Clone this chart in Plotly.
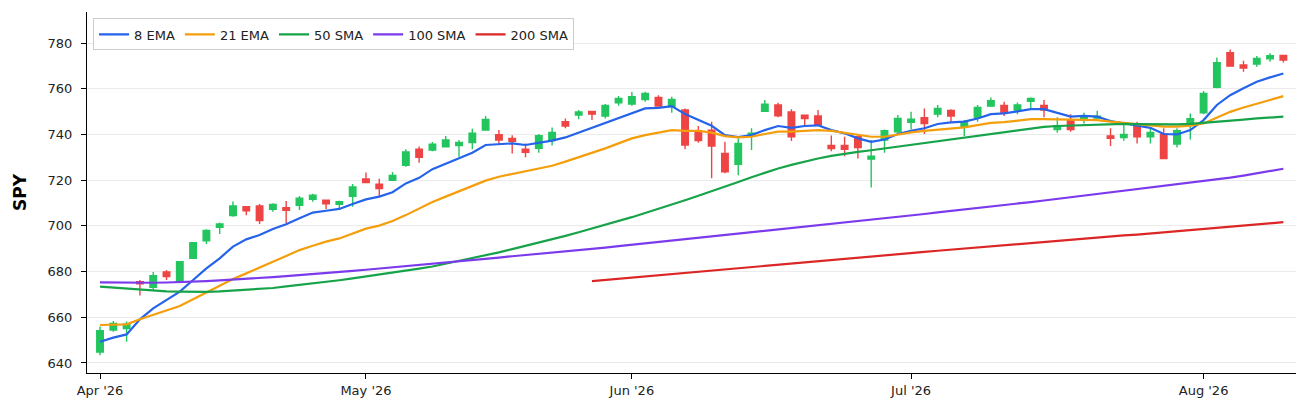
import pandas as pd
import plotly.graph_objects as go

ticker = 'SPY'

# trading days Apr 2 - Aug 11 2026 (NYSE holidays skipped)
holidays = ['2026-04-03', '2026-05-25', '2026-06-19', '2026-07-03']
dates = pd.bdate_range('2026-04-02', '2026-08-11', freq='C', holidays=holidays)

opens = [644.8, 654.4, 655.0, 675.6, 673.1, 679.8, 675.6, 685.8, 693.5, 699.4,
         704.5, 708.4, 708.7, 707.2, 707.9, 709.0, 711.6, 711.2, 709.4, 712.9,
         720.5, 718.2, 719.9, 726.5, 733.5, 733.2, 734.6, 735.2, 736.5, 741.9,
         739.9, 738.3, 733.6, 733.9, 737.3, 745.6, 748.5, 750.1, 748.1, 753.9,
         753.3, 755.3, 756.2, 752.1, 750.7, 741.6, 741.9, 731.7, 726.9, 739.3,
         750.1, 752.9, 749.8, 748.4, 748.1, 735.2, 735.2, 739.0, 729.2, 737.6,
         741.2, 745.3, 747.3, 748.9, 750.5, 743.1, 747.5, 752.4, 752.7, 750.7,
         754.5, 752.7, 742.2, 746.3, 746.3, 747.2, 739.4, 738.6, 743.7, 739.0,
         740.2, 735.8, 744.1, 749.5, 760.6, 775.8, 770.4, 770.8, 773.1, 774.6]
highs = [655.9, 658.4, 658.1, 676.3, 679.8, 680.7, 684.6, 692.9, 698.5, 701.5,
         710.7, 708.7, 709.6, 709.9, 710.9, 713.1, 714.1, 711.3, 711.0, 718.3,
         723.3, 720.6, 723.6, 733.5, 734.7, 736.7, 739.3, 737.6, 742.5, 748.1,
         741.9, 739.7, 736.1, 740.2, 743.1, 747.0, 750.7, 750.4, 753.3, 756.8,
         758.6, 758.7, 757.2, 756.5, 751.4, 743.7, 745.6, 736.8, 738.3, 742.7,
         755.1, 753.9, 751.0, 748.6, 750.7, 739.6, 739.0, 739.7, 737.6, 742.2,
         748.5, 749.9, 751.4, 752.9, 751.0, 746.3, 752.9, 756.2, 754.3, 754.0,
         756.2, 755.1, 747.5, 748.9, 749.5, 750.4, 742.7, 744.1, 745.6, 742.7,
         742.7, 742.7, 749.2, 759.0, 773.7, 777.2, 772.3, 774.3, 775.5, 774.9]
lows = [643.4, 653.6, 649.3, 669.5, 672.0, 676.3, 675.3, 685.5, 692.1, 696.4,
        704.0, 704.6, 700.8, 706.2, 701.1, 706.9, 710.6, 707.4, 707.4, 708.4,
        718.6, 713.1, 719.6, 725.9, 727.6, 732.6, 734.3, 730.3, 733.5, 741.6,
        735.8, 731.7, 730.0, 732.0, 735.2, 742.7, 746.7, 746.3, 747.0, 752.6,
        752.6, 754.3, 752.1, 749.5, 733.5, 736.4, 720.8, 723.0, 722.2, 733.2,
        749.9, 747.5, 737.1, 744.1, 743.7, 732.6, 730.5, 729.5, 716.8, 732.0,
        740.5, 742.2, 740.2, 747.5, 745.6, 739.3, 745.6, 752.1, 748.1, 748.9,
        750.7, 747.5, 740.8, 741.2, 744.8, 746.3, 734.9, 737.3, 736.1, 736.1,
        729.1, 734.3, 737.8, 748.9, 760.2, 769.6, 767.5, 769.6, 771.8, 771.5]
closes = [654.1, 657.3, 657.0, 674.6, 678.2, 677.8, 684.3, 692.6, 698.0, 700.8,
          708.7, 706.6, 702.3, 709.4, 706.8, 712.1, 713.4, 709.7, 710.6, 717.0,
          719.0, 716.3, 722.1, 732.3, 730.0, 735.7, 737.6, 736.5, 740.5, 746.6,
          737.6, 737.0, 732.2, 739.5, 740.9, 743.7, 749.8, 748.9, 752.7, 755.8,
          756.5, 758.0, 752.4, 755.3, 735.4, 737.3, 734.9, 723.7, 736.1, 740.5,
          753.3, 748.2, 739.0, 747.0, 744.1, 733.8, 733.5, 734.3, 730.5, 741.6,
          747.0, 746.7, 744.8, 751.4, 748.1, 745.6, 751.8, 754.8, 749.5, 752.9,
          755.8, 750.7, 743.7, 742.2, 747.6, 748.0, 738.3, 740.0, 739.0, 740.9,
          729.5, 741.6, 746.9, 758.0, 771.4, 769.9, 769.1, 773.3, 774.5, 772.6]

ema8 = [649.3, 651.1, 652.5, 659.1, 663.9, 667.6, 671.2, 676.3, 681.4, 685.8,
        690.9, 694.1, 696.0, 698.6, 700.7, 703.3, 705.8, 706.6, 707.4, 709.6,
        711.6, 712.8, 714.7, 718.6, 721.0, 724.8, 727.3, 729.5, 732.0, 735.4,
        735.8, 736.1, 735.4, 736.4, 737.3, 738.7, 740.8, 742.7, 744.8, 747.0,
        749.2, 751.4, 751.6, 752.4, 748.9, 746.3, 743.8, 739.7, 738.9, 739.7,
        741.9, 743.7, 742.9, 743.7, 744.0, 741.9, 740.5, 738.3, 736.8, 737.8,
        740.2, 741.6, 742.7, 744.6, 745.3, 745.6, 747.0, 748.9, 749.2, 750.1,
        751.1, 751.1, 749.5, 747.8, 748.1, 747.8, 745.9, 744.8, 743.7, 742.9,
        740.2, 740.0, 741.9, 746.3, 752.9, 757.2, 760.2, 763.1, 765.0, 766.7]
ema21 = [656.6, 656.6, 656.9, 659.1, 661.0, 662.9, 664.9, 667.9, 670.8, 673.7,
         676.7, 679.2, 681.9, 684.3, 686.8, 689.4, 691.3, 693.1, 694.5, 696.7,
         698.8, 700.1, 702.1, 704.7, 707.7, 710.4, 712.8, 715.2, 717.6, 719.8,
         721.5, 722.7, 723.6, 724.9, 726.3, 728.1, 730.0, 731.7, 733.9, 736.1,
         738.3, 739.7, 740.9, 741.9, 741.6, 741.6, 740.8, 739.3, 738.7, 739.0,
         740.2, 741.2, 741.2, 741.6, 741.9, 741.6, 740.8, 739.7, 739.0, 739.0,
         740.0, 740.9, 741.6, 742.2, 742.7, 743.1, 744.1, 745.1, 745.4, 746.0,
         746.7, 746.7, 746.6, 746.3, 746.3, 746.3, 745.6, 745.1, 744.6, 744.1,
         743.4, 743.4, 743.8, 744.8, 747.5, 749.9, 751.8, 753.6, 755.1, 756.8]
sma50 = [673.4, 673.0, 672.5, 672.0, 671.6, 671.3, 671.2, 671.1, 671.1, 671.3,
         671.6, 671.9, 672.3, 672.8, 673.5, 674.1, 674.8, 675.5, 676.2, 677.0,
         677.8, 678.6, 679.5, 680.4, 681.3, 682.2, 683.4, 684.6, 685.8, 687.1,
         688.4, 689.8, 691.2, 692.6, 694.1, 695.6, 697.2, 698.8, 700.4, 702.1,
         703.8, 705.6, 707.4, 709.3, 711.2, 713.2, 715.1, 717.1, 719.2, 721.3,
         723.3, 725.1, 726.7, 728.2, 729.5, 730.6, 731.6, 732.4, 733.1, 733.9,
         734.7, 735.5, 736.3, 737.2, 738.0, 738.7, 739.4, 740.3, 741.1, 741.8,
         742.6, 743.3, 743.7, 743.9, 744.2, 744.5, 744.5, 744.6, 744.5, 744.4,
         744.3, 744.4, 744.6, 745.0, 745.6, 746.1, 746.5, 747.0, 747.5, 747.8]
sma100 = [675.3, 675.2, 675.1, 675.1, 675.1, 675.2, 675.3, 675.5, 675.8, 676.1,
          676.4, 676.8, 677.2, 677.6, 678.0, 678.4, 678.9, 679.4, 679.8, 680.3,
          680.8, 681.3, 681.8, 682.3, 682.8, 683.4, 683.9, 684.5, 685.0, 685.6,
          686.1, 686.7, 687.2, 687.8, 688.3, 688.9, 689.4, 690.0, 690.5, 691.1,
          691.7, 692.3, 692.9, 693.5, 694.1, 694.7, 695.3, 695.9, 696.5, 697.1,
          697.7, 698.3, 698.9, 699.5, 700.1, 700.7, 701.3, 702.0, 702.6, 703.3,
          703.9, 704.6, 705.2, 705.9, 706.5, 707.2, 707.8, 708.5, 709.1, 709.8,
          710.4, 711.1, 711.8, 712.5, 713.2, 713.9, 714.6, 715.4, 716.1, 716.9,
          717.5, 718.2, 718.9, 719.6, 720.3, 721.1, 722.0, 723.0, 724.0, 725.0]
# not enough history for the 200 SMA before early June
sma200 = [None] * 37 + [
          675.8, 676.3, 676.8, 677.4, 677.9, 678.4, 678.9, 679.4, 680.0, 680.5,
          681.0, 681.5, 682.0, 682.6, 683.1, 683.6, 684.1, 684.6, 685.1, 685.6,
          686.1, 686.6, 687.1, 687.6, 688.1, 688.6, 689.1, 689.6, 690.1, 690.6,
          691.1, 691.6, 692.1, 692.6, 693.0, 693.5, 694.0, 694.4, 694.9, 695.3,
          695.8, 696.2, 696.7, 697.1, 697.6, 698.1, 698.6, 699.1, 699.6, 700.1,
          700.6, 701.1, 701.6]

lines = [('8 EMA', ema8, '#2563eb'),
         ('21 EMA', ema21, '#f59e0b'),
         ('50 SMA', sma50, '#16a34a'),
         ('100 SMA', sma100, '#7c3aed'),
         ('200 SMA', sma200, '#dc2626')]

x = list(range(len(dates)))

# one tick on the first trading day of each month
tick_idx = []
tick_text = []
for i, d in enumerate(dates):
    if i == 0 or d.month != dates[i - 1].month:
        tick_idx.append(i)
        tick_text.append(d.strftime("%b '%y"))

fig = go.Figure()
fig.add_trace(go.Candlestick(x=x, open=opens, high=highs, low=lows, close=closes,
                             text=[d.strftime('%Y-%m-%d') for d in dates],
                             increasing=dict(line=dict(color='#22c55e', width=1.4), fillcolor='#22c55e'),
                             decreasing=dict(line=dict(color='#ef4444', width=1.4), fillcolor='#ef4444'),
                             showlegend=False, name=ticker))

for name, vals, color in lines:
    fig.add_trace(go.Scatter(x=x, y=vals, mode='lines', name=name,
                             line=dict(color=color, width=2.2)))

# page body has an 8px margin, so the figure is a bit smaller than the window
fig.update_layout(width=1300, height=407,
                  margin={'l': 79, 'r': 12, 't': 4, 'b': 42},
                  plot_bgcolor='white', paper_bgcolor='white',
                  font=dict(family='DejaVu Sans', size=13, color='#222222'),
                  legend=dict(orientation='h', x=0.005, y=0.982, xanchor='left', yanchor='top',
                              bgcolor='rgba(255,255,255,0.9)', bordercolor='#cccccc', borderwidth=1,
                              font=dict(size=13), itemwidth=30))
fig.update_xaxes(range=[-0.98, 89.95], rangeslider_visible=False,
                 tickvals=tick_idx, ticktext=tick_text,
                 showgrid=False, zeroline=False, automargin=False,
                 showline=True, linecolor='black', linewidth=1.2,
                 ticks='outside', ticklen=5, tickcolor='black')
fig.update_yaxes(range=[635.6, 793.6], dtick=20, tick0=640,
                 showgrid=True, gridcolor='#ebebeb', gridwidth=0.8, zeroline=False,
                 showline=True, linecolor='black', linewidth=1.2, automargin=False,
                 ticks='outside', ticklen=5, tickcolor='black', ticklabelstandoff=6,
                 title=dict(text='<b>SPY</b>', font=dict(size=17, color='black'), standoff=16))
fig.write_html('out.html')
